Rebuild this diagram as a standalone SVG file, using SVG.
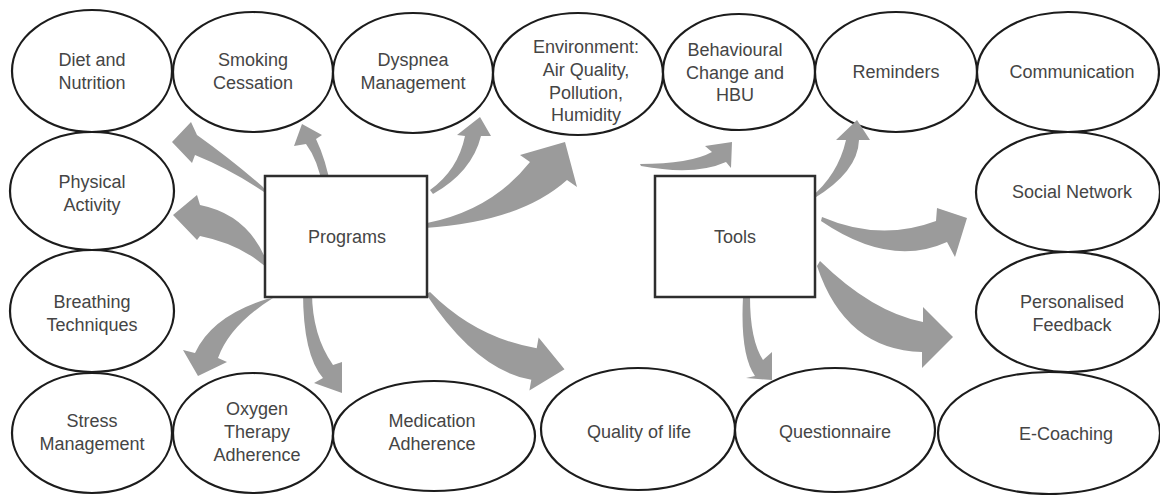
<svg xmlns="http://www.w3.org/2000/svg" width="1160" height="495" viewBox="0 0 1160 495">
<style>
.n ellipse{fill:#fff;stroke:#1c1c1c;stroke-width:2.2}
.b rect{fill:#fff;stroke:#2e2e2e;stroke-width:2.5}
text{font-family:"Liberation Sans",Arial,sans-serif;font-size:18px;fill:#454545;text-anchor:middle}
.c path{fill:#9b9b9b;stroke:none}
</style>
<rect width="1160" height="495" fill="#fff"/>
<g id="diet" class="n"><ellipse cx="92" cy="71" rx="80" ry="61"/><text x="92" y="66">Diet and</text><text x="92" y="89">Nutrition</text></g>
<g id="smoking" class="n"><ellipse cx="253" cy="72" rx="80" ry="60"/><text x="253" y="66">Smoking</text><text x="253" y="89">Cessation</text></g>
<g id="dyspnea" class="n"><ellipse cx="413" cy="73" rx="80" ry="60"/><text x="413" y="66">Dyspnea</text><text x="413" y="89">Management</text></g>
<g id="environment" class="n"><ellipse cx="578" cy="74" rx="85" ry="61"/><text x="586" y="53">Environment:</text><text x="586" y="76">Air Quality,</text><text x="586" y="99">Pollution,</text><text x="586" y="121">Humidity</text></g>
<g id="behavioural" class="n"><ellipse cx="739" cy="72" rx="76" ry="58"/><text x="735" y="56">Behavioural</text><text x="735" y="79">Change and</text><text x="735" y="101">HBU</text></g>
<g id="reminders" class="n"><ellipse cx="896" cy="72" rx="81" ry="60"/><text x="896" y="78">Reminders</text></g>
<g id="communication" class="n"><ellipse cx="1068" cy="72" rx="91" ry="60"/><text x="1072" y="78">Communication</text></g>
<g id="physical" class="n"><ellipse cx="92" cy="191" rx="82" ry="59"/><text x="92" y="188">Physical</text><text x="92" y="211">Activity</text></g>
<g id="breathing" class="n"><ellipse cx="92" cy="311" rx="82" ry="61"/><text x="92" y="308">Breathing</text><text x="92" y="331">Techniques</text></g>
<g id="social" class="n"><ellipse cx="1068" cy="192" rx="92" ry="60"/><text x="1072" y="198">Social Network</text></g>
<g id="personalised" class="n"><ellipse cx="1068" cy="312" rx="92" ry="60"/><text x="1072" y="308">Personalised</text><text x="1072" y="331">Feedback</text></g>
<g id="stress" class="n"><ellipse cx="92" cy="433" rx="80" ry="60"/><text x="92" y="427">Stress</text><text x="92" y="450">Management</text></g>
<g id="oxygen" class="n"><ellipse cx="253" cy="433" rx="80" ry="60"/><text x="257" y="415">Oxygen</text><text x="257" y="438">Therapy</text><text x="257" y="461">Adherence</text></g>
<g id="medication" class="n"><ellipse cx="434" cy="436" rx="101" ry="55"/><text x="432" y="427">Medication</text><text x="432" y="450">Adherence</text></g>
<g id="quality" class="n"><ellipse cx="638" cy="429" rx="97" ry="61"/><text x="639" y="438">Quality of life</text></g>
<g id="questionnaire" class="n"><ellipse cx="835" cy="430" rx="100" ry="62"/><text x="835" y="438">Questionnaire</text></g>
<g id="ecoaching" class="n"><ellipse cx="1049" cy="433" rx="111" ry="61"/><text x="1066" y="440">E-Coaching</text></g>
<g id="connectors" class="c">
<path d="M263,187 Q232,160 197,135 L191,122 L172,142 L192,163 L195,155 Q232,170 267,194 Z"/>
<path d="M268,265 Q250,215 200,205 L197,195 L173,215 L197,240 L200,236 Q245,245 272,273 Z"/>
<path d="M323,188 Q318,160 306,144 L294,146 L302,124 L322,135 L316,139 Q326,160 331,188 Z"/>
<path d="M430,190 Q458,170 465,136 L457,135 L480,117 L491,136 L481,136 Q472,172 433,194 Z"/>
<path d="M427,223 Q492,210 530,162 L520,155 L565,142 L577,187 L567,180 Q520,222 425,228 Z"/>
<path d="M267,299 Q212,316 195,353 L183,350 L198,376 L227,362 L218,358 Q230,325 273,298 Z"/>
<path d="M303,292 Q303,355 323,378 L314,383 L342,393 L342,362 L333,365 Q312,335 312,292 Z"/>
<path d="M430,292 Q476,338 536.7,348.2 L538.6,337.4 L564.5,369.3 L529.4,390.6 L531.3,379.8 Q476.6,370.4 426,294 Z"/>
<path d="M640,164 Q690,164 712,152 L705,146 L732,142 L731,168 L726,162 Q695,176 641,166 Z"/>
<path d="M810,198 Q838,175 846,140 L836,140 L857,120 L870,140 L859,140 Q858,172 813,199 Z"/>
<path d="M822,217 Q880,242 936,221 L937,208 L967,218 L955,257 L947,242 Q890,268 821,221 Z"/>
<path d="M820,261 Q872,312 923,322 L923,307 L953,337 L922,368 L922,352 Q845,350 817,266 Z"/>
<path d="M743,297 Q740,355 755,376 L746,378 L772,380 L772,352 L763,360 Q750,340 750,297 Z"/>
</g>
<g id="programs" class="b"><rect x="265" y="176" width="162" height="121"/><text x="347" y="243">Programs</text></g>
<g id="tools" class="b"><rect x="655" y="176" width="160" height="121"/><text x="735" y="243">Tools</text></g>
</svg>
